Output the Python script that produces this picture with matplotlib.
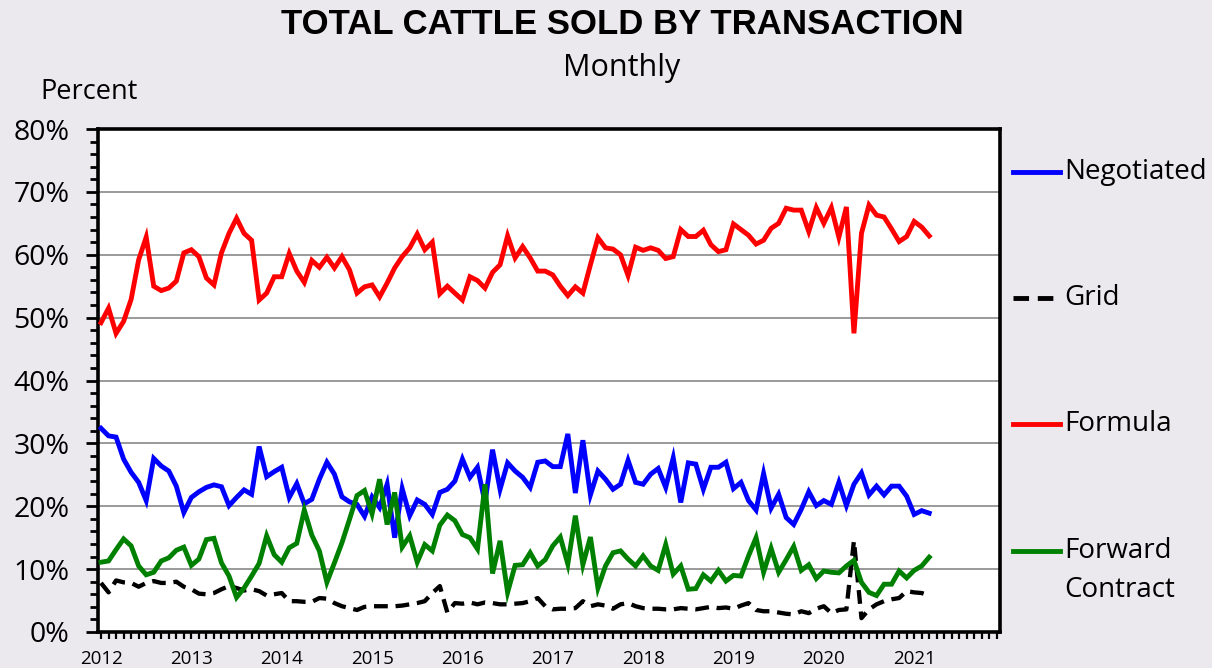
import matplotlib
matplotlib.use("Agg")
import matplotlib.pyplot as plt
from matplotlib.lines import Line2D
from matplotlib.ticker import MultipleLocator, FixedLocator, FuncFormatter

# ---- data (percent, monthly Jan 2012 .. Mar 2021) ----
years = [2012, 2013, 2014, 2015, 2016, 2017, 2018, 2019, 2020, 2021]

formula = [49.2, 51.5, 47.5, 49.4, 52.9, 59.2, 62.8, 55.0, 54.3, 54.7, 55.8, 60.3,
           60.8, 59.7, 56.3, 55.2, 60.3, 63.4, 65.8, 63.4, 62.3, 52.8, 53.9, 56.5,
           56.5, 60.2, 57.4, 55.6, 59.1, 58.0, 59.6, 57.9, 59.7, 57.6, 53.9, 54.9,
           55.2, 53.3, 55.5, 57.9, 59.7, 61.1, 63.3, 60.8, 62.0, 53.8, 55.0, 53.9,
           52.8, 56.5, 55.9, 54.7, 57.2, 58.4, 63.0, 59.5, 61.3, 59.5, 57.4, 57.4,
           56.8, 55.0, 53.5, 54.9, 53.9, 58.4, 62.7, 61.1, 60.9, 60.0, 56.7, 61.2,
           60.7, 61.1, 60.7, 59.4, 59.7, 64.0, 62.9, 62.9, 63.9, 61.6, 60.5, 60.8,
           64.9, 64.0, 63.1, 61.7, 62.3, 64.2, 65.0, 67.4, 67.1, 67.1, 63.7, 67.5,
           65.0, 67.5, 62.8, 67.6, 47.5, 63.4, 67.9, 66.3, 66.0, 64.1, 62.1, 62.9,
           65.3, 64.4, 63.0]

negotiated = [32.4, 31.2, 31.0, 27.5, 25.4, 23.8, 20.9, 27.6, 26.4, 25.6, 23.2, 19.0,
              21.4, 22.3, 23.0, 23.4, 23.1, 20.1, 21.4, 22.6, 21.9, 29.5, 24.7, 25.5,
              26.2, 21.4, 23.6, 20.4, 21.1, 24.3, 27.0, 25.1, 21.5, 20.7, 20.3, 18.4,
              21.5, 19.8, 23.5, 15.0, 22.8, 18.5, 21.0, 20.3, 18.7, 22.2, 22.7, 24.0,
              27.5, 24.6, 26.2, 20.6, 29.0, 22.7, 26.9, 25.6, 24.6, 23.0, 27.0, 27.2,
              26.3, 26.3, 31.5, 22.1, 30.5, 21.8, 25.6, 24.3, 22.7, 23.5, 27.3, 23.8,
              23.5, 25.1, 26.0, 23.0, 27.7, 20.6, 26.9, 26.7, 22.7, 26.2, 26.2, 27.0,
              22.8, 23.8, 20.9, 19.4, 25.2, 19.7, 21.9, 18.2, 17.1, 19.5, 22.3, 20.1,
              20.9, 20.3, 23.8, 20.1, 23.5, 25.3, 21.8, 23.2, 21.8, 23.2, 23.2, 21.6,
              18.7, 19.3, 18.9]

forward = [11.1, 11.3, 13.1, 14.8, 13.7, 10.5, 9.1, 9.5, 11.3, 11.8, 13.0, 13.5,
           10.6, 11.6, 14.7, 14.9, 11.0, 8.9, 5.5, 7.0, 8.9, 10.9, 15.3, 12.3,
           11.1, 13.4, 14.1, 19.4, 15.4, 12.9, 7.9, 11.0, 14.2, 17.9, 21.7, 22.5,
           18.8, 24.3, 17.1, 22.2, 13.5, 15.3, 11.1, 13.9, 12.9, 17.0, 18.6, 17.7,
           15.5, 15.0, 13.2, 23.5, 9.3, 14.5, 6.3, 10.6, 10.7, 12.6, 10.5, 11.5,
           13.7, 15.1, 10.8, 18.5, 10.7, 15.1, 7.0, 10.5, 12.6, 12.9, 11.6, 10.5,
           12.1, 10.5, 9.8, 13.9, 9.2, 10.5, 6.8, 6.9, 9.1, 8.1, 9.8, 8.1,
           9.0, 8.9, 12.1, 15.0, 9.5, 13.3, 9.5, 11.5, 13.6, 9.8, 10.7, 8.5,
           9.7, 9.5, 9.4, 10.5, 11.4, 7.9, 6.3, 5.8, 7.6, 7.6, 9.7, 8.6,
           9.8, 10.5, 11.9]

grid = [7.8, 6.3, 8.2, 7.9, 7.8, 7.2, 7.8, 8.1, 7.8, 7.8, 8.0, 7.2,
        6.8, 6.1, 6.0, 6.2, 6.8, 7.3, 7.0, 6.6, 6.8, 6.5, 5.8, 6.0,
        6.2, 4.9, 4.9, 4.8, 4.8, 5.4, 5.3, 4.6, 4.1, 3.8, 3.5, 4.0,
        4.1, 4.1, 4.1, 4.1, 4.2, 4.4, 4.6, 4.9, 6.2, 7.3, 3.1, 4.6,
        4.5, 4.7, 4.4, 4.7, 4.6, 4.4, 4.4, 4.5, 4.6, 4.9, 5.4, 4.1,
        3.6, 3.7, 3.7, 3.8, 4.9, 4.1, 4.4, 4.2, 3.7, 4.4, 4.6, 4.1,
        3.8, 3.7, 3.7, 3.6, 3.6, 3.8, 3.7, 3.6, 3.8, 4.0, 3.8, 3.9,
        3.7, 4.2, 4.6, 3.5, 3.3, 3.3, 3.1, 2.9, 2.8, 3.3, 3.0, 3.7,
        4.1, 3.0, 3.5, 3.6, 14.5, 2.2, 3.6, 4.4, 4.9, 5.2, 5.4, 6.5,
        6.3, 6.2, 5.8]

series_names = ["Negotiated", "Grid", "Formula", "Forward\nContract"]

# ---- figure ----
BG = "#ebe9ee"
plt.rcParams["font.family"] = ["Open Sans", "DejaVu Sans"]
fig = plt.figure(figsize=(12.12, 6.68), dpi=100, facecolor=BG)
ax = fig.add_axes([98 / 1212, 36 / 668, 902 / 1212, 503 / 668])
ax.set_facecolor("white")

months = list(range(len(formula)))
lw = 3.5
dash = (0, (3.2, 1.8))
ax.plot(months, negotiated, color="#0000ff", lw=lw, solid_joinstyle="miter", zorder=4)
ax.plot(months, grid, color="black", lw=3.1, linestyle=dash, zorder=3)
ax.plot(months, formula, color="#ff0000", lw=lw, solid_joinstyle="miter", zorder=4)
ax.plot(months, forward, color="#008000", lw=lw, solid_joinstyle="miter", zorder=5)

ax.set_xlim(-0.4, 119.4)
ax.set_ylim(0, 80)

ax.yaxis.set_major_locator(MultipleLocator(10))
ax.yaxis.set_minor_locator(MultipleLocator(2))
ax.yaxis.set_major_formatter(FuncFormatter(lambda v, p: f"{int(round(v))}%"))
ax.grid(axis="y", which="major", color="#9a9a9a", lw=1.4)
ax.set_axisbelow(True)

year_pos = [12 * k for k in range(len(years))]
ax.xaxis.set_major_locator(FixedLocator(year_pos))
ax.xaxis.set_minor_locator(FixedLocator(list(range(0, 120))))
ax.set_xticklabels([str(y) for y in years])

ax.tick_params(axis="y", which="major", length=8.5, width=2, labelsize=20.5, pad=12, colors="black")
ax.tick_params(axis="y", which="minor", length=6, width=2)
ax.tick_params(axis="x", which="both", length=5, width=1.6, direction="out")
ax.tick_params(axis="x", which="major", labelsize=13.5, pad=8)

for s in ax.spines.values():
    s.set_linewidth(2.6)
    s.set_color("black")

# titles
fig.text(622 / 1212, 1 - 25 / 668, "TOTAL CATTLE SOLD BY TRANSACTION", ha="center", va="center",
         fontsize=25, fontweight="bold", family=["Liberation Sans", "DejaVu Sans"])
fig.text(622 / 1212, 1 - 68 / 668, "Monthly", ha="center", va="center", fontsize=22)
fig.text(89 / 1212, 1 - 92 / 668, "Percent", ha="center", va="center", fontsize=19.5)

# legend (manual, right side)
leg_colors = ["#0000ff", "black", "#ff0000", "#008000"]
leg_styles = ["-", dash, "-", "-"]
leg_y = [172, 298, 424, 551]
line_gap = 39
for name, c, ls, yy in zip(series_names, leg_colors, leg_styles, leg_y):
    yf = 1 - yy / 668
    fig.add_artist(Line2D([1013 / 1212, 1060 / 1212], [yf, yf], color=c, lw=3.5,
                          linestyle=ls, transform=fig.transFigure))
    for k, part in enumerate(name.split("\n")):
        fig.text(1064 / 1212, 1 - (yy + k * line_gap) / 668, part, ha="left", va="center",
                 fontsize=20)

fig.savefig("out.png", dpi=100, facecolor=BG)
